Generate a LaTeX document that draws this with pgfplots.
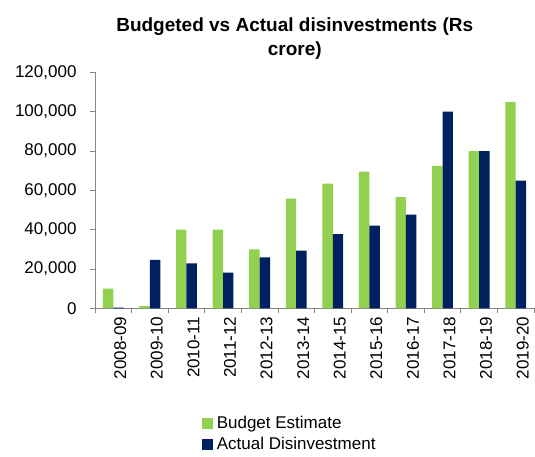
\documentclass[border=0pt]{standalone}
\usepackage{fontspec}
\setmainfont{Liberation Sans}
\usepackage{pgfplots}
\pgfplotsset{compat=1.18}
\definecolor{BudgetGreen}{HTML}{92D050}
\definecolor{ActualNavy}{HTML}{002060}
\definecolor{AxisGray}{HTML}{868686}

\begin{document}
\begin{tikzpicture}
\begin{axis}[
    at={(0,0)}, anchor=south west,
    scale only axis,
    width=439pt, height=235.9pt,
    ybar=0pt, bar width=10.4pt,
    xmin=-0.5, xmax=11.5, ymin=0, ymax=120000,
    axis x line*=bottom, axis y line*=left,
    axis line style={AxisGray, line width=0.8pt},
    tick style={AxisGray, line width=0.8pt},
    tick align=outside, major tick length=5pt,
    xtick={-0.5,0.5,...,11.5},
    x tick label as interval,
    xticklabels={2008-09,2009-10,2010-11,2011-12,2012-13,2013-14,
                 2014-15,2015-16,2016-17,2017-18,2018-19,2019-20},
    x tick label style={rotate=90, anchor=east, yshift=-7pt},
    ytick={0,20000,...,120000},
    scaled y ticks=false,
    yticklabel style={xshift=-10pt, /pgf/number format/.cd, fixed, 1000 sep={,}},
    /pgf/number format/assume math mode=true,
    tick label style={font=\fontsize{17}{20}\selectfont, black},
    title={Budgeted vs Actual disinvestments (Rs\\crore)},
    title style={at={(0.455,1)}, anchor=south, yshift=7pt, inner sep=0pt,
                 align=center, font=\fontsize{19}{24}\selectfont\bfseries},
    legend style={draw=none, fill=none, at={(0.236,-0.44)}, anchor=north west,
                  font=\fontsize{17}{20}\selectfont, row sep=3pt},
    legend cell align=left,
    legend image code/.code={\fill[#1] (0pt,-5.5pt) rectangle (11pt,5.5pt);
                             \path (13pt,0pt);},
]
\addplot[fill=BudgetGreen, draw=none] coordinates {
    (0,10000) (1,1100) (2,40000) (3,40000) (4,30000) (5,55800)
    (6,63400) (7,69500) (8,56500) (9,72500) (10,80000) (11,105000)
};
\addplot[fill=ActualNavy, draw=none] coordinates {
    (0,400) (1,24600) (2,22800) (3,18100) (4,25900) (5,29400)
    (6,37700) (7,42100) (8,47700) (9,100000) (10,80000) (11,65000)
};
\legend{Budget Estimate, Actual Disinvestment}
\end{axis}
\pgfresetboundingbox
\path[use as bounding box] (-95pt,-148.7pt) rectangle (440pt,308.3pt);
\end{tikzpicture}
\end{document}
